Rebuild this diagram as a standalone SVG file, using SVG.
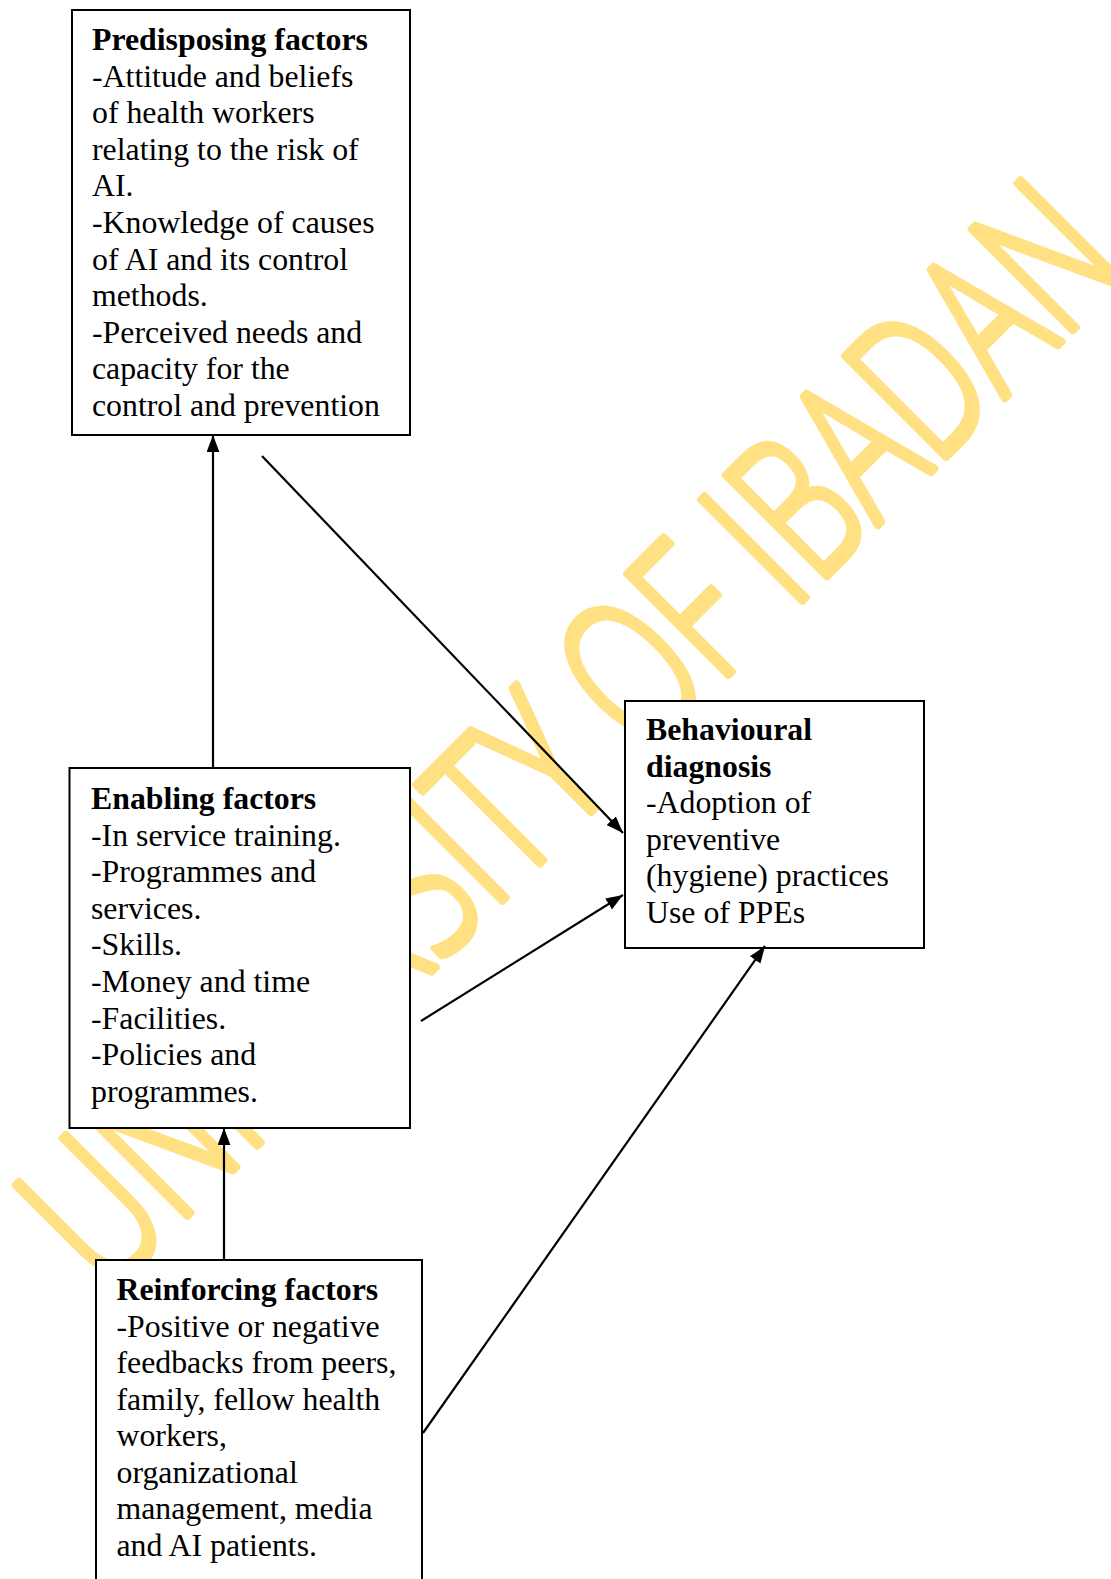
<svg xmlns="http://www.w3.org/2000/svg" width="1111" height="1579" viewBox="0 0 1111 1579">
<style>
.box{fill:#fff;stroke:#000;stroke-width:2}
.t{font-family:"Liberation Serif","Times New Roman",serif;font-size:31.8px;fill:#000}
.b{font-weight:bold}
.c{stroke:#000;stroke-width:2.2;fill:none}
.wm{font-family:"Open Sans","Liberation Sans",sans-serif;font-weight:300;font-size:200px;fill:#FFE082;stroke:#FFE082;stroke-width:8;stroke-linejoin:round}
</style>
<defs>
<marker id="ah" viewBox="0 0 16 12" refX="16" refY="6" markerWidth="17" markerHeight="13" markerUnits="userSpaceOnUse" orient="auto">
<path d="M0,0 L16,6 L0,12 z" fill="#000"/>
</marker>
</defs>
<rect width="1111" height="1579" fill="#fff"/>
<g id="watermark">
<text class="wm" transform="translate(107,1296) rotate(-45)" textLength="1450" lengthAdjust="spacingAndGlyphs">UNIVERSITY OF IBADAN</text>
</g>
<g id="predisposing">
<rect class="box" x="72" y="10" width="338" height="425"/>
<text class="t" x="92" y="50"><tspan class="b">Predisposing factors</tspan><tspan x="92" dy="36.6">-Attitude and beliefs</tspan><tspan x="92" dy="36.6">of health workers</tspan><tspan x="92" dy="36.6">relating to the risk of</tspan><tspan x="92" dy="36.6">AI.</tspan><tspan x="92" dy="36.6">-Knowledge of causes</tspan><tspan x="92" dy="36.6">of AI and its control</tspan><tspan x="92" dy="36.6">methods.</tspan><tspan x="92" dy="36.6">-Perceived needs and</tspan><tspan x="92" dy="36.6">capacity for the</tspan><tspan x="92" dy="36.6">control and prevention</tspan></text>
</g>
<g id="enabling">
<rect class="box" x="69.5" y="768" width="340.5" height="360"/>
<text class="t" x="91" y="809"><tspan class="b">Enabling factors</tspan><tspan x="91" dy="36.6">-In service training.</tspan><tspan x="91" dy="36.6">-Programmes and</tspan><tspan x="91" dy="36.6">services.</tspan><tspan x="91" dy="36.6">-Skills.</tspan><tspan x="91" dy="36.6">-Money and time</tspan><tspan x="91" dy="36.6">-Facilities.</tspan><tspan x="91" dy="36.6">-Policies and</tspan><tspan x="91" dy="36.6">programmes.</tspan></text>
</g>
<g id="behavioural">
<rect class="box" x="625" y="701" width="299" height="247"/>
<text class="t" x="646" y="740"><tspan class="b">Behavioural</tspan><tspan x="646" dy="36.6" class="b">diagnosis</tspan><tspan x="646" dy="36.6">-Adoption of</tspan><tspan x="646" dy="36.6">preventive</tspan><tspan x="646" dy="36.6">(hygiene) practices</tspan><tspan x="646" dy="36.6">Use of PPEs</tspan></text>
</g>
<g id="reinforcing">
<rect class="box" x="96" y="1260" width="326" height="340"/>
<text class="t" x="116.5" y="1300"><tspan class="b">Reinforcing factors</tspan><tspan x="116.5" dy="36.5">-Positive or negative</tspan><tspan x="116.5" dy="36.5">feedbacks from peers,</tspan><tspan x="116.5" dy="36.5">family, fellow health</tspan><tspan x="116.5" dy="36.5">workers,</tspan><tspan x="116.5" dy="36.5">organizational</tspan><tspan x="116.5" dy="36.5">management, media</tspan><tspan x="116.5" dy="36.5">and AI patients.</tspan></text>
</g>
<g id="connectors">
<line class="c" x1="213" y1="768" x2="213" y2="435" marker-end="url(#ah)"/>
<line class="c" x1="262" y1="456" x2="623" y2="833" marker-end="url(#ah)"/>
<line class="c" x1="421" y1="1021" x2="623" y2="895" marker-end="url(#ah)"/>
<line class="c" x1="423" y1="1433" x2="765" y2="946" marker-end="url(#ah)"/>
<line class="c" x1="224" y1="1260" x2="224" y2="1128" marker-end="url(#ah)"/>
</g>
</svg>
